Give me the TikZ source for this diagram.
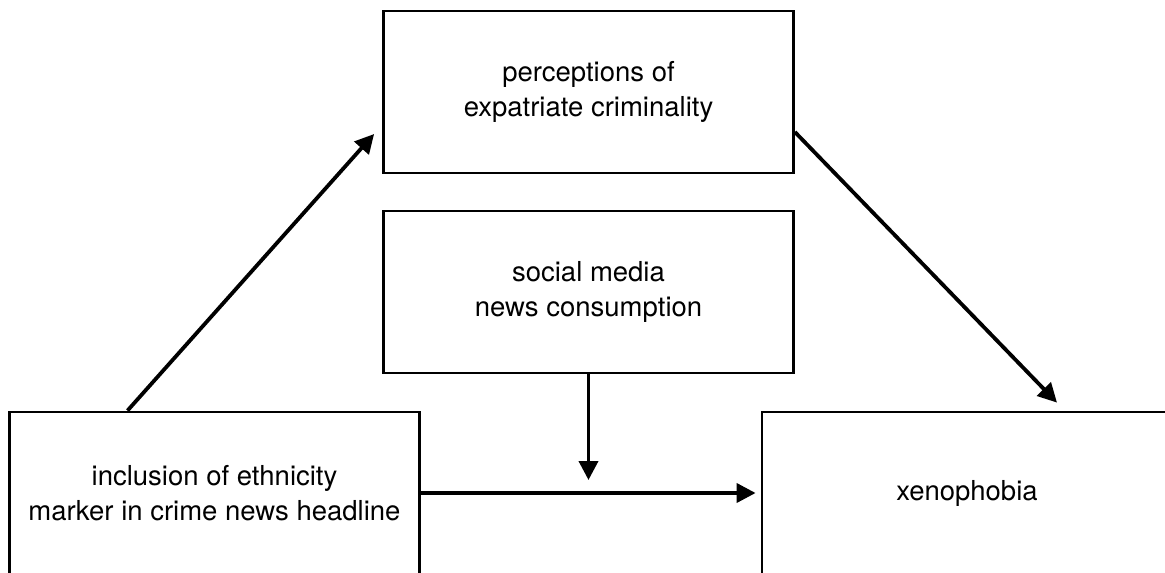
\documentclass[tikz,border=0pt]{standalone}
\usepackage{fontspec}
\setmainfont{TeX Gyre Heros}
\usetikzlibrary{arrows.meta}
\tikzset{
  box/.style={draw=black, line width=2.8pt, minimum width=410pt, minimum height=162pt,
    align=center, inner sep=0pt, font=\fontsize{27.5}{34.5}\selectfont},
  arr/.style={line width=3.8pt, -{Triangle[length=19pt,width=19pt]}}
}
\begin{document}
\begin{tikzpicture}[x=1pt,y=-1pt]
\useasboundingbox (0,0) rectangle (1165,573);
\clip (0,0) rectangle (1165,573);
\fill[white] (0,0) rectangle (1165,573);
\node[box] (T) at (588.5,92) {perceptions of\\expatriate criminality};
\node[box] (M) at (588.5,292) {social media\\news consumption};
\node[box] (L) at (214.5,493) {inclusion of ethnicity\\marker in crime news headline};
\node[box] (R) at (967,493) {xenophobia};
\coordinate (mod) at (M.south |- L.east);
\draw[arr] ([xshift=-87pt]L.north) -- ([xshift=-8pt,yshift=-42pt]T.west);
\draw[arr] ([yshift=-40pt]T.east) -- ([xshift=90pt,yshift=8pt]R.north);
\draw[arr] (M.south) -- ([yshift=13pt]mod);
\draw[arr, shorten >=5pt] (L.east) -- (R.west);
\end{tikzpicture}
\end{document}
